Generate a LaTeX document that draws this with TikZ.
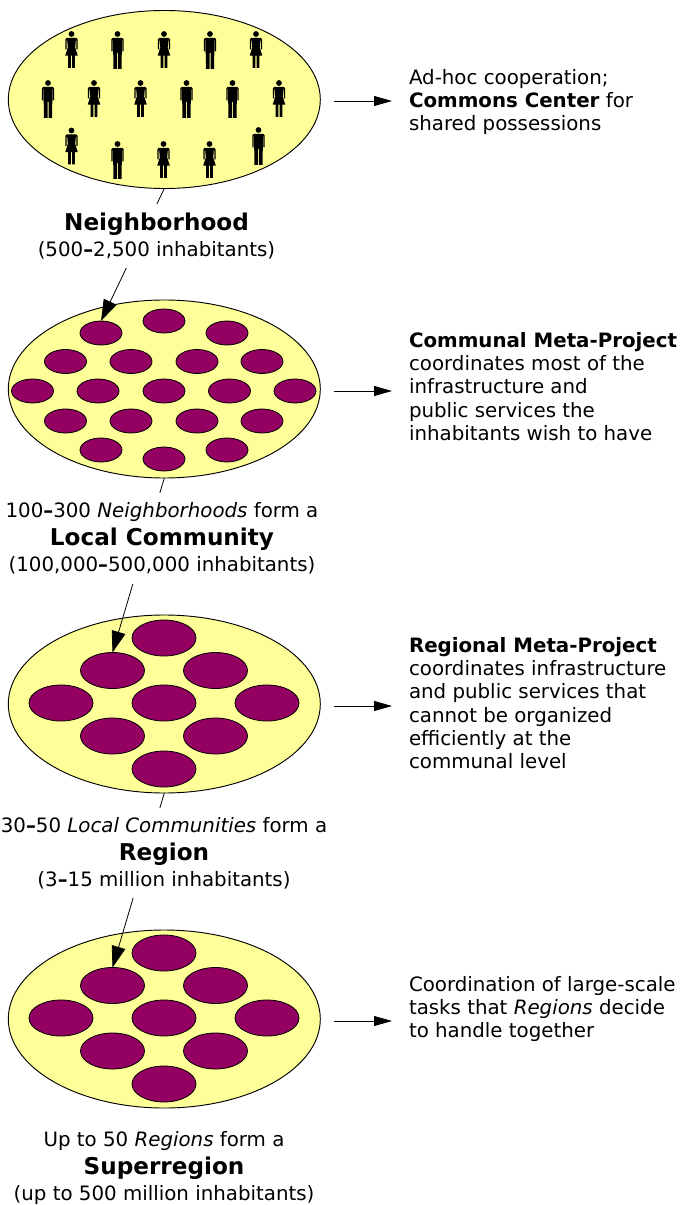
\documentclass[tikz,border=0pt]{standalone}
\usepackage{fontspec}
\setmainfont{DejaVu Sans}
\usetikzlibrary{shapes.geometric,arrows.meta}
\newcommand\ttl[1]{\raisebox{-0.9pt}{\fontsize{17.35pt}{20.3pt}\selectfont\bfseries #1}}
\definecolor{regionfill}{RGB}{255,255,153}
\definecolor{cellfill}{RGB}{148,0,98}
\tikzset{
  region/.style={ellipse,draw=black,fill=regionfill,line width=0.7pt,minimum width=234pt,minimum height=133.5pt,inner sep=0pt,outer sep=0pt},
  cellS/.style={ellipse,draw=black,fill=cellfill,line width=0.6pt,minimum width=31.5pt,minimum height=18pt,inner sep=0pt,outer sep=0pt},
  cellL/.style={ellipse,draw=black,fill=cellfill,line width=0.6pt,minimum width=48pt,minimum height=27pt,inner sep=0pt,outer sep=0pt},
  down/.style={line width=0.6pt,-{Triangle[length=16pt,width=10.5pt]}},
  side/.style={line width=0.6pt,-{Triangle[length=13.5pt,width=7.5pt]}},
  caption/.style={fill=white,align=center,inner sep=0pt,outer sep=0pt,font=\fontsize{14.85pt}{20.3pt}\selectfont},
  note/.style={anchor=north west,align=left,inner sep=0pt,outer sep=0pt,font=\fontsize{14.85pt}{17.5pt}\selectfont},
  man/.pic={
    \fill (0,3) circle (2.9);
    \fill (-4.6,6.8) -- (4.6,6.8) -- (6.2,8.3) -- (6.2,20.5) -- (4.9,20.5) -- (4.9,9.5) -- (4.4,9.5) -- (4.1,38) -- (0.5,38) -- (0.5,22) -- (-0.5,22) -- (-0.5,38) -- (-4.1,38) -- (-4.4,9.5) -- (-4.9,9.5) -- (-4.9,20.5) -- (-6.2,20.5) -- (-6.2,8.3) -- cycle;
  },
  woman/.pic={
    \fill (0,3) circle (2.9);
    \fill (-4.6,6.8) -- (4.6,6.8) -- (6.2,8.3) -- (6.2,18.5) -- (4.9,18.5) -- (4.9,9.5) -- (4.3,9.5) -- (3.7,16.5) -- (6.3,24.7) -- (3.4,24.7) -- (3.4,37) -- (0.6,37) -- (0.6,24.7) -- (-0.6,24.7) -- (-0.6,37) -- (-3.4,37) -- (-3.4,24.7) -- (-6.3,24.7) -- (-3.7,16.5) -- (-4.3,9.5) -- (-4.9,9.5) -- (-4.9,18.5) -- (-6.2,18.5) -- (-6.2,8.3) -- cycle;
  }
}
\begin{document}
\begin{tikzpicture}[x=0.75pt,y=-0.75pt]
\useasboundingbox (0,0) rectangle (680,1205);
% large regions
\node[region] (e1) at (164.3,99.5) {};
\node[region] (e2) at (164.3,389) {};
\node[region] (e3) at (164.3,704) {};
\node[region] (e4) at (164.3,1019) {};
% people
\pic at (71.5,31) {woman};
\pic at (117.5,31) {man};
\pic at (164,31) {woman};
\pic at (210,31) {man};
\pic at (256,31) {woman};
\pic at (48,80) {man};
\pic at (94,80) {woman};
\pic at (140.5,80) {woman};
\pic at (186.5,80) {man};
\pic at (232.5,80) {man};
\pic at (279,80) {woman};
\pic at (71.5,127.5) {woman};
\pic at (117.5,141) {man};
\pic at (163.5,141) {woman};
\pic at (209.5,141) {woman};
\pic at (258.5,127) {man};
% neighbourhood cells
\node[cellS] (na1) at (101,333) {};
\node[cellS] (na2) at (164,321) {};
\node[cellS] (na3) at (227,333) {};
\node[cellS] (nb1) at (65.5,361.5) {};
\node[cellS] (nb2) at (131,361.5) {};
\node[cellS] (nb3) at (197,361.5) {};
\node[cellS] (nb4) at (262,361.5) {};
\node[cellS] (nc1) at (32.5,391) {};
\node[cellS] (nc2) at (98,391) {};
\node[cellS] (nc3) at (164,391) {};
\node[cellS] (nc4) at (229.5,391) {};
\node[cellS] (nc5) at (295,391) {};
\node[cellS] (nd1) at (65.5,421) {};
\node[cellS] (nd2) at (131,421) {};
\node[cellS] (nd3) at (197,421) {};
\node[cellS] (nd4) at (262,421) {};
\node[cellS] (ne1) at (101,450) {};
\node[cellS] (ne2) at (164,459) {};
\node[cellS] (ne3) at (227,450) {};
% community cells
\node[cellL] (ca1) at (164,638) {};
\node[cellL] (ca2) at (112.5,670.5) {};
\node[cellL] (ca3) at (215.5,670.5) {};
\node[cellL] (ca4) at (61,703) {};
\node[cellL] (ca5) at (164,703) {};
\node[cellL] (ca6) at (267,703) {};
\node[cellL] (ca7) at (112.5,736) {};
\node[cellL] (ca8) at (215.5,736) {};
\node[cellL] (ca9) at (164,769) {};
% region cells
\node[cellL] (ra1) at (164,953) {};
\node[cellL] (ra2) at (112.5,985.5) {};
\node[cellL] (ra3) at (215.5,985.5) {};
\node[cellL] (ra4) at (61,1018) {};
\node[cellL] (ra5) at (164,1018) {};
\node[cellL] (ra6) at (267,1018) {};
\node[cellL] (ra7) at (112.5,1051) {};
\node[cellL] (ra8) at (215.5,1051) {};
\node[cellL] (ra9) at (164,1084) {};
% connectors between levels (pass behind the captions)
\draw[down] (e1.south) -- (na1.north);
\draw[down] (e2.south) -- (ca2.north);
\draw[down] (e3.south) -- (ra2.north);
% captions
\node[caption,minimum height=48pt] (t1) at (156.5,236) {\ttl{Neighborhood}\\(500\textbf{–}2,500 inhabitants)};
\node[caption,minimum height=68pt] (t2) at (162,538.5) {100\textbf{–}300 \textit{Neighborhoods} form a\\\ttl{Local Community}\\(100,000\textbf{–}500,000 inhabitants)};
\node[caption,minimum height=67.5pt] (t3) at (164,853) {30\textbf{–}50 \textit{Local Communities} form a\\\ttl{Region}\\(3\textbf{–}15 million inhabitants)};
\node[caption] (t4) at (164,1168) {Up to 50 \textit{Regions} form a\\\ttl{Superregion}\\(up to 500 million inhabitants)};
% side notes
\node[note] (n1) at (409,69) {Ad-hoc cooperation;\\\textbf{Commons Center} for\\shared possessions};
\node[note] (n2) at (409,332) {\textbf{Communal Meta-Project}\\coordinates most of the\\infrastructure and\\public services the\\inhabitants wish to have};
\node[note] (n3) at (409,637) {\textbf{Regional Meta-Project}\\coordinates infrastructure\\and public services that\\cannot be organized\\efficiently at the\\communal level};
\node[note] (n4) at (409,976) {Coordination of large-scale\\tasks that \textit{Regions} decide\\to handle together};
% side arrows
\coordinate (a1) at (334,101); \coordinate (b1) at (392,101);
\coordinate (a2) at (334,391); \coordinate (b2) at (392,391);
\coordinate (a3) at (334,706); \coordinate (b3) at (392,706);
\coordinate (a4) at (334,1021); \coordinate (b4) at (392,1021);
\draw[side] (a1) -- (b1);
\draw[side] (a2) -- (b2);
\draw[side] (a3) -- (b3);
\draw[side] (a4) -- (b4);
\end{tikzpicture}
\end{document}
